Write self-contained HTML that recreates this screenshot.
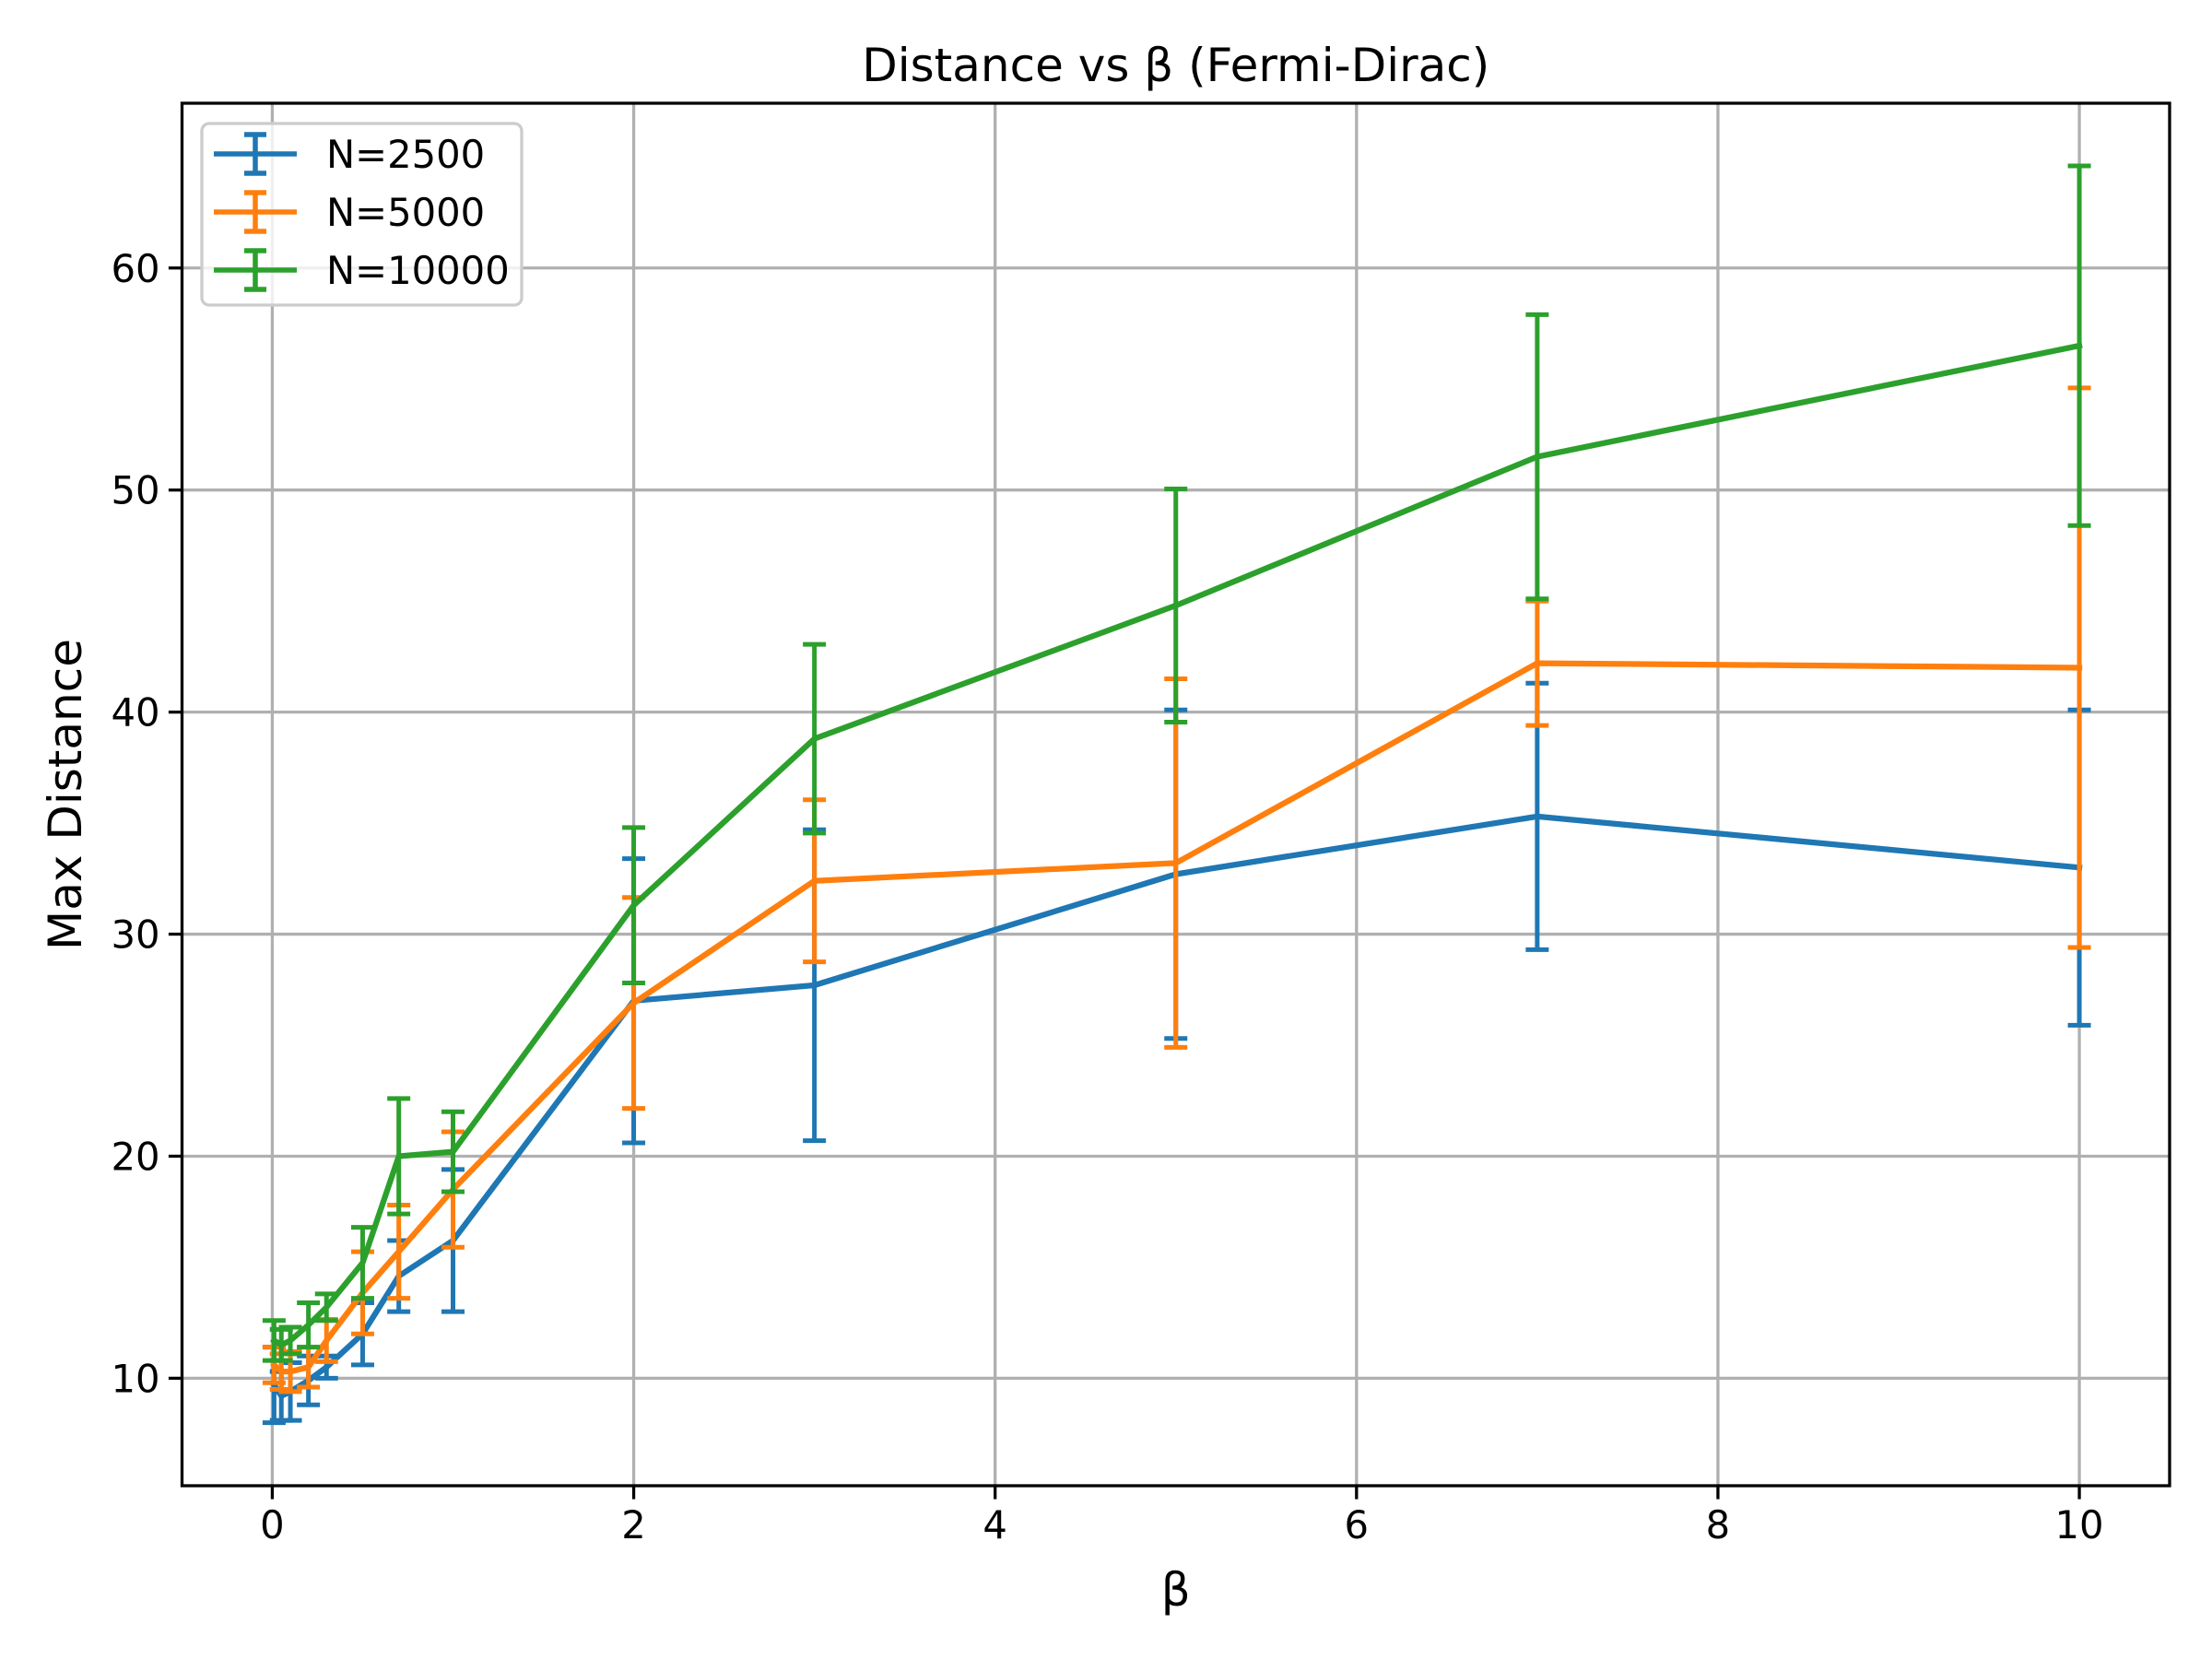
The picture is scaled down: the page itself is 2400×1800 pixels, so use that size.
<!DOCTYPE html>
<html><head><meta charset="utf-8"><style>body{margin:0;background:#fff}svg{display:block}text{font-family:"DejaVu Sans","Liberation Sans",sans-serif;fill:#000}</style></head>
<body>
<svg id="chart" xmlns="http://www.w3.org/2000/svg" width="2400" height="1800" viewBox="0 0 2400 1800">
<rect width="2400" height="1800" fill="#fff"/>
<g id="grid"></g><g id="series"></g><g id="axes"></g><g id="legend"></g>
</svg>
<script>
const betas=[0.01,0.05,0.1,0.2,0.3,0.5,0.7,1,2,3,5,7,10];
const labels=["N=2500","N=5000","N=10000"];
const colors=["#1f77b4","#ff7f0e","#2ca02c"];
const mean2500=[9.7,9.2,9.4,9.9,10.5,12.0,14.6,16.2,27.0,27.7,32.7,35.3,33.0];
const err2500=[1.7,1.1,1.3,1.1,0.5,1.4,1.6,3.2,6.4,7.0,7.4,6.0,7.1];
const mean5000=[10.6,10.3,10.3,10.5,11.7,13.85,15.7,18.5,26.9,32.4,33.2,42.2,42.0];
const err5000=[0.8,0.8,0.9,0.9,0.95,1.85,2.1,2.6,4.75,3.65,8.3,2.8,12.6];
const mean10000=[11.7,11.5,11.7,12.4,13.2,15.2,20.0,20.2,31.3,38.8,44.8,51.5,56.5];
const err10000=[0.9,0.7,0.6,1.0,0.6,1.6,2.6,1.8,3.5,4.25,5.25,6.4,8.1];
const xTicks=[0,2,4,6,8,10];
const yTicks=[10,20,30,40,50,60];
const means=[mean2500,mean5000,mean10000];
const errs=[err2500,err5000,err10000];
const L=197.5,R=2354,T=112,B=1612;
const xMin=-0.4995,xMax=10.4995,yMin=5.16,yMax=67.42;
const X=v=>L+(v-xMin)/(xMax-xMin)*(R-L);
const Y=v=>B-(v-yMin)/(yMax-yMin)*(B-T);
const NS="http://www.w3.org/2000/svg";
function mk(tag,attrs,parent){const e=document.createElementNS(NS,tag);for(const k in attrs)e.setAttribute(k,attrs[k]);parent.appendChild(e);return e;}
const grid=document.getElementById('grid'),series=document.getElementById('series'),axes=document.getElementById('axes'),legend=document.getElementById('legend');
xTicks.forEach(t=>{
  const g=mk('line',{x1:X(t),x2:X(t),y1:T,y2:B,stroke:'#b0b0b0','stroke-width':3.3},grid);
  
  
  mk('line',{x1:X(t),x2:X(t),y1:B,y2:B+14.6,stroke:'#000','stroke-width':3.3},axes);
  const tx=mk('text',{x:X(t),y:B+57,'font-size':41.7,'text-anchor':'middle'},axes);tx.textContent=t;
  
  
});
yTicks.forEach(t=>{
  const g=mk('line',{x1:L,x2:R,y1:Y(t),y2:Y(t),stroke:'#b0b0b0','stroke-width':3.3},grid);
  
  
  mk('line',{x1:L-14.6,x2:L,y1:Y(t),y2:Y(t),stroke:'#000','stroke-width':3.3},axes);
  const tx=mk('text',{x:L-24,y:Y(t)+15,'font-size':41.7,'text-anchor':'end'},axes);tx.textContent=t;
  
  
});
means.forEach((m,s)=>{
  const g=mk('g',{},series);
  
  
  betas.forEach((b,i)=>{
    const x=X(b),y1=Y(m[i]-errs[s][i]),y2=Y(m[i]+errs[s][i]);
    const e=mk('path',{d:`M${x},${y1}V${y2}M${x-12.5},${y1}H${x+12.5}M${x-12.5},${y2}H${x+12.5}`,stroke:colors[s],'stroke-width':5,fill:'none'},g);
    
    
  });
  const p=mk('polyline',{points:betas.map((b,i)=>X(b)+','+Y(m[i])).join(' '),stroke:colors[s],'stroke-width':6.25,fill:'none','stroke-linejoin':'round','stroke-linecap':'square'},g);
  
  
});
const frame=mk('rect',{x:L,y:T,width:R-L,height:B-T,fill:'none',stroke:'#000','stroke-width':3.3},axes);


const title=mk('text',{x:(L+R)/2,y:88,'font-size':50,'text-anchor':'middle'},axes);title.textContent='Distance vs β (Fermi-Dirac)';


const xl=mk('text',{x:(L+R)/2,y:1742,'font-size':50,'text-anchor':'middle'},axes);xl.textContent='β';


const yl=mk('text',{x:88,y:(T+B)/2,'font-size':50,'text-anchor':'middle',transform:`rotate(-90 88 ${(T+B)/2})`},axes);yl.textContent='Max Distance';


const box=mk('rect',{x:219,y:134,width:347,height:197,rx:8,fill:'#fff','fill-opacity':0.8,stroke:'#cccccc','stroke-width':3.3},legend);


labels.forEach((lab,s)=>{
  const y=167+s*63;
  const g=mk('g',{},legend);
  
  
  mk('path',{d:`M232,${y}H322M277,${y-21}V${y+21}M265,${y-21}H289M265,${y+21}H289`,stroke:colors[s],'stroke-width':5.5,fill:'none'},g);
  const t=mk('text',{x:354,y:y+15,'font-size':41.7},g);t.textContent=lab;
});
</script>
</body></html>
